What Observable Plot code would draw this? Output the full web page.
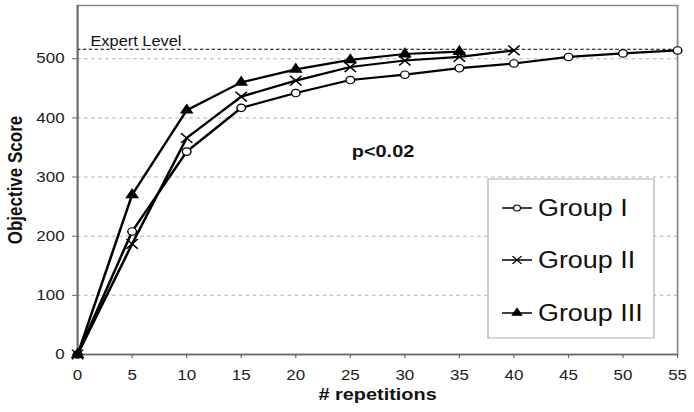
<!DOCTYPE html>
<html><head><meta charset="utf-8">
<script src="https://cdn.jsdelivr.net/npm/d3@7"></script>
<script src="https://cdn.jsdelivr.net/npm/@observablehq/plot@0.6"></script>
<style>html,body{margin:0;padding:0;background:#fff;} #chart{width:694px;height:412px;overflow:hidden}</style>
</head><body><div id="chart"></div>
<script>
// ---- data ----
const repetitions = [0, 5, 10, 15, 20, 25, 30, 35, 40, 45, 50, 55];
const groupI   = [0, 208, 343, 417, 442, 464, 473, 484, 492, 503, 509, 514];
const groupII  = [0, 187, 366, 436, 463, 486, 497, 503, 514];
const groupIII = [0, 270, 413, 460, 482, 498, 508, 512];
const seriesNames = ["Group I", "Group II", "Group III"];
const xTicks = [0, 5, 10, 15, 20, 25, 30, 35, 40, 45, 50, 55];
const yTicks = [0, 100, 200, 300, 400, 500];
const expertLevel = 516;
const expertLabel = "Expert Level";
const pLabel = "p<0.02";
const pAt = {x: 28, y: 343};
const xTitle = "# repetitions";
const yTitle = "Objective Score";

const seriesValues = [groupI, groupII, groupIII];
const rows = [];
seriesValues.forEach((vals, i) => vals.forEach((v, j) => rows.push({group: seriesNames[i], rep: repetitions[j], score: v})));
const of = name => rows.filter(r => r.group === name);

const S = 694 / 593;  // horizontal stretch of the reference image
const W = 593, H = 412;
const font = "'Liberation Sans', Arial, Helvetica, sans-serif";

const plot = Plot.plot({
  width: W, height: H,
  marginLeft: 77 / S, marginRight: 17 / S, marginTop: 5, marginBottom: 58,
  style: {fontFamily: font, fontSize: "14.5px", color: "#222", background: "#fff", overflow: "visible"},
  x: {domain: [0, 55]},
  y: {domain: [0, 590]},
  marks: [
    Plot.gridY(yTicks.filter(d => d > 0), {stroke: "#b0b0b0", strokeOpacity: 1, strokeDasharray: "3,3"}),
    Plot.frame({stroke: "#888", strokeWidth: 1.5}),
    Plot.ruleY([expertLevel], {stroke: "#000", strokeWidth: 1, strokeDasharray: "3,2"}),
    Plot.ruleX([0], {stroke: "#666", strokeWidth: 1.5}),
    Plot.ruleY([0], {stroke: "#666", strokeWidth: 1.5}),
    Plot.axisX({ticks: xTicks, tickSize: 4, tickPadding: 11, label: null, stroke: "#666", fill: "#222"}),
    Plot.axisY({ticks: yTicks, tickSize: 5 / S, tickPadding: 8 / S, label: null, stroke: "#666", fill: "#222"}),
    Plot.line(rows, {x: "rep", y: "score", z: "group", stroke: "#000", strokeWidth: 2.2}),
    Plot.dot(of("Group I"), {x: "rep", y: "score", symbol: "circle", r: 3.7, fill: "#fff", stroke: "#000", strokeWidth: 1.2}),
    Plot.dot(of("Group II"), {x: "rep", y: "score", symbol: "times", r: 4.5, stroke: "#000", strokeWidth: 1.4}),
    Plot.dot(of("Group III"), {x: "rep", y: "score", symbol: "triangle", r: 3.4, fill: "#000", stroke: "#000"}),
    Plot.text([{t: expertLabel, x: 0, y: expertLevel}], {x: "x", y: "y", text: "t", textAnchor: "start", dx: 11, dy: -8, fontSize: 14, fill: "#111"}),
    Plot.text([{t: pLabel, x: pAt.x, y: pAt.y}], {x: "x", y: "y", text: "t", fontSize: 17, fontWeight: "bold", fill: "#111"}),
    Plot.text([xTitle], {frameAnchor: "bottom", textAnchor: "middle", dy: 45, fontSize: 17, fontWeight: "bold", fill: "#111"}),
    Plot.text([yTitle], {frameAnchor: "left", textAnchor: "middle", dx: -52.6, rotate: -90, fontSize: 17, fontWeight: "bold", fill: "#111"})
  ]
});

// Legend (inside plot area, top-right box)
const svg = d3.select(plot);
const lg = svg.append("g").attr("font-family", font).attr("text-anchor", "start");
lg.append("rect").attr("x", 488 / S).attr("y", 179).attr("width", (654 - 488) / S).attr("height", 159)
  .attr("fill", "#fff").attr("stroke", "#bbb").attr("stroke-width", 1.2);
const legendYs = [208, 260, 313];
const legendSymbols = [
  {type: d3.symbolCircle, size: Math.PI * 3 * 3, fill: "#fff", sw: 1},
  {type: d3.symbolTimes, size: Math.PI * 3.6 * 3.6, fill: "none", sw: 1.2},
  {type: d3.symbolTriangle, size: Math.PI * 3 * 3, fill: "#000", sw: 1}
];
seriesNames.forEach((name, i) => {
  const y = legendYs[i];
  lg.append("line").attr("x1", 502 / S).attr("x2", 532 / S).attr("y1", y).attr("y2", y).attr("stroke", "#000").attr("stroke-width", 1.5);
  const s = legendSymbols[i];
  lg.append("path").attr("d", d3.symbol().type(s.type).size(s.size)())
    .attr("transform", `translate(${517 / S},${y})`)
    .attr("fill", s.fill).attr("stroke", "#000").attr("stroke-width", s.sw);
  lg.append("text").attr("x", 538 / S).attr("y", y).attr("dy", "0.35em").attr("font-size", 23).attr("fill", "#111").attr("text-anchor", "start").text(name);
});

plot.setAttribute("width", 694);
plot.setAttribute("height", 412);
plot.setAttribute("preserveAspectRatio", "none");
plot.style.width = "694px";
plot.style.height = "412px";
plot.style.maxWidth = "none";
document.getElementById("chart").appendChild(plot);
</script>
</body></html>
